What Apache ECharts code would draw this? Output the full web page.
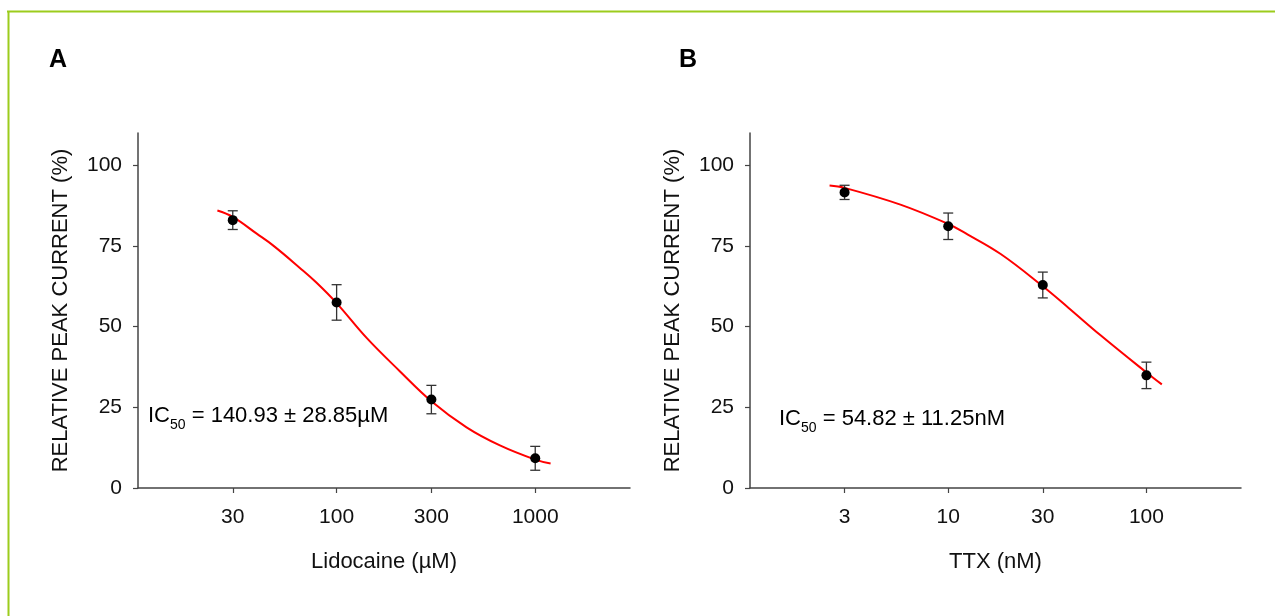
<!DOCTYPE html>
<html>
<head>
<meta charset="utf-8">
<script src="https://cdn.jsdelivr.net/npm/echarts@6/dist/echarts.min.js"></script>
<style>
  html, body { margin: 0; padding: 0; background: #fff; }
  #chart { width: 1275px; height: 616px; }
</style>
</head>
<body>
<div id="chart"></div>
<script>
// panel A: lidocaine (uM)
const lidoConc = [30, 100, 300, 1000];
const lidoMean = [83.0, 57.5, 27.4, 9.2];
const lidoErr = [2.9, 5.5, 4.4, 3.7];
const lidoFitConc = [25.1, 30, 39.6, 48.0, 65.3, 79.3, 100, 141.6, 208, 300, 451, 664, 1000, 1195];
const lidoFitVal = [86.0, 84.0, 78.8, 75.1, 68.2, 63.6, 57.3, 46.5, 36.2, 26.9, 18.8, 13.2, 8.8, 7.6];
const lidoTicks = [30, 100, 300, 1000];

// panel B: TTX (nM)
const ttxConc = [3, 10, 30, 100];
const ttxMean = [91.6, 81.1, 62.9, 34.9];
const ttxErr = [2.2, 4.1, 4.0, 4.1];
const ttxFitConc = [2.52, 3, 5.74, 10, 12.5, 18.4, 30, 40.5, 58.5, 100, 119.6];
const ttxFitVal = [93.7, 93.0, 87.8, 81.8, 78.6, 72.5, 62.5, 55.8, 47.4, 35.8, 32.1];
const ttxTicks = [3, 10, 30, 100];

const yTicks = [0, 25, 50, 75, 100];

const FONT = 'Liberation Sans, Arial, Helvetica, sans-serif';
const lg = v => Math.log10(v);

var myChart = echarts.init(document.getElementById('chart'), null, { renderer: 'canvas' });

function xAxisDef (grid, min, max, ticks, name) {
  return {
    gridIndex: grid,
    type: 'value',
    min: lg(min),
    max: lg(max),
    name: name,
    nameLocation: 'middle',
    nameGap: 63,
    nameTextStyle: { fontFamily: FONT, fontSize: 22, color: '#111' },
    axisLine: { show: true, lineStyle: { color: '#444', width: 1.5 } },
    axisTick: { show: true, length: 5, customValues: ticks.map(lg), lineStyle: { color: '#444', width: 1.2 } },
    axisLabel: {
      customValues: ticks.map(lg),
      margin: 19,
      fontFamily: FONT, fontSize: 21, color: '#111',
      formatter: v => String(Math.round(Math.pow(10, v)))
    },
    splitLine: { show: false }
  };
}

function yAxisDef (grid) {
  return {
    gridIndex: grid,
    type: 'value',
    min: 0,
    max: 110,
    name: 'RELATIVE PEAK CURRENT (%)',
    nameLocation: 'middle',
    nameGap: 66,
    nameTextStyle: { fontFamily: FONT, fontSize: 22, color: '#111' },
    axisLine: { show: true, lineStyle: { color: '#444', width: 1.5 } },
    axisTick: { show: true, length: 5, customValues: yTicks, lineStyle: { color: '#444', width: 1.2 } },
    axisLabel: { customValues: yTicks, margin: 16, fontFamily: FONT, fontSize: 21, color: '#111' },
    splitLine: { show: false }
  };
}

function fitSeries (idx, conc, vals) {
  return {
    type: 'line',
    xAxisIndex: idx, yAxisIndex: idx,
    data: conc.map((c, i) => [lg(c), vals[i]]),
    smooth: 0.4,
    showSymbol: false,
    lineStyle: { color: '#ff0000', width: 2 },
    z: 3
  };
}

function dotSeries (idx, conc, mean) {
  return {
    type: 'scatter',
    xAxisIndex: idx, yAxisIndex: idx,
    data: conc.map((c, i) => [lg(c), mean[i]]),
    symbolSize: 10,
    itemStyle: { color: '#000', opacity: 1 },
    z: 5
  };
}

function errSeries (idx, conc, mean, err) {
  return {
    type: 'custom',
    xAxisIndex: idx, yAxisIndex: idx,
    data: conc.map((c, i) => [lg(c), mean[i] - err[i], mean[i] + err[i]]),
    encode: { x: 0, y: [1, 2] },
    renderItem: function (params, api) {
      const lo = api.coord([api.value(0), api.value(1)]);
      const hi = api.coord([api.value(0), api.value(2)]);
      const w = 5;
      const st = { stroke: '#333', lineWidth: 1.3 };
      return {
        type: 'group',
        children: [
          { type: 'line', shape: { x1: hi[0], y1: hi[1], x2: lo[0], y2: lo[1] }, style: st },
          { type: 'line', shape: { x1: hi[0] - w, y1: hi[1], x2: hi[0] + w, y2: hi[1] }, style: st },
          { type: 'line', shape: { x1: lo[0] - w, y1: lo[1], x2: lo[0] + w, y2: lo[1] }, style: st }
        ]
      };
    },
    z: 4
  };
}

function icText (x, y, rest) {
  return {
    type: 'text',
    left: x,
    top: y,
    style: {
      text: '{a|IC}{s|50}{a| = ' + rest + '}',
      rich: {
        a: { fontFamily: FONT, fontSize: 22, color: '#111', lineHeight: 32, verticalAlign: 'middle' },
        s: { fontFamily: FONT, fontSize: 14, color: '#111', verticalAlign: 'bottom' }
      }
    }
  };
}

var option = {
  animation: false,
  backgroundColor: '#fff',
  grid: [
    { left: 138, top: 133, width: 492, height: 355 },
    { left: 750, top: 133, width: 491, height: 355 }
  ],
  xAxis: [
    xAxisDef(0, 10, 3000, lidoTicks, 'Lidocaine (\u00b5M)'),
    xAxisDef(1, 1, 300, ttxTicks, 'TTX (nM)')
  ],
  yAxis: [yAxisDef(0), yAxisDef(1)],
  graphic: [
    // green frame, top and left only
    { type: 'line', shape: { x1: 7, y1: 11.5, x2: 1275, y2: 11.5 }, style: { stroke: '#9ccc1c', lineWidth: 2 } },
    { type: 'line', shape: { x1: 8.5, y1: 11, x2: 8.5, y2: 616 }, style: { stroke: '#9ccc1c', lineWidth: 2 } },
    { type: 'text', left: 49, top: 48, style: { text: 'A', fontFamily: FONT, fontSize: 25, fontWeight: 'bold', fill: '#000' } },
    { type: 'text', left: 679, top: 48, style: { text: 'B', fontFamily: FONT, fontSize: 25, fontWeight: 'bold', fill: '#000' } },
    icText(148, 405, '140.93 \u00b1 28.85\u00b5M'),
    icText(779, 408, '54.82 \u00b1 11.25nM')
  ],
  series: [
    fitSeries(0, lidoFitConc, lidoFitVal),
    errSeries(0, lidoConc, lidoMean, lidoErr),
    dotSeries(0, lidoConc, lidoMean),
    fitSeries(1, ttxFitConc, ttxFitVal),
    errSeries(1, ttxConc, ttxMean, ttxErr),
    dotSeries(1, ttxConc, ttxMean)
  ]
};

myChart.setOption(option);
window.addEventListener('resize', () => {
  myChart.resize();
});
</script>
</body>
</html>
